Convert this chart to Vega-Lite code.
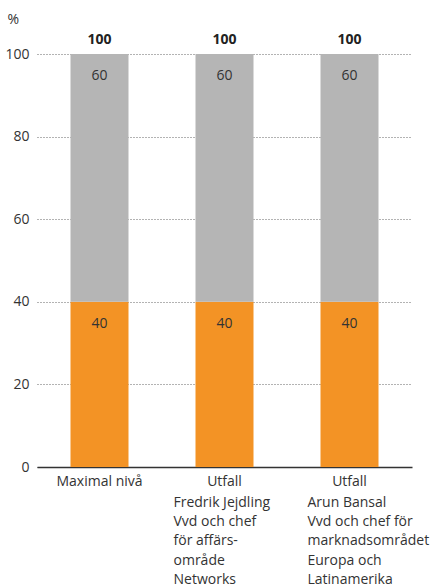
{
  "$schema": "https://vega.github.io/schema/vega-lite/v6.json",
  "width": 375,
  "height": 413,
  "autosize": "none",
  "padding": {"left": 37, "top": 54, "right": 24, "bottom": 121},
  "config": {
    "view": {"stroke": null},
    "font": "Open Sans",
    "text": {"font": "Open Sans", "fontSize": 14, "color": "#333333"}
  },
  "datasets": {
    "bars": [
      {"cat": "Maximal nivå", "part": "a", "value": 40},
      {"cat": "Maximal nivå", "part": "b", "value": 60},
      {"cat": "Utfall|Fredrik", "part": "a", "value": 40},
      {"cat": "Utfall|Fredrik", "part": "b", "value": 60},
      {"cat": "Utfall|Arun", "part": "a", "value": 40},
      {"cat": "Utfall|Arun", "part": "b", "value": 60}
    ],
    "totals": [
      {"cat": "Maximal nivå", "total": 100},
      {"cat": "Utfall|Fredrik", "total": 100},
      {"cat": "Utfall|Arun", "total": 100}
    ],
    "subs": [
      {"cat": "Utfall|Fredrik", "sub": "Fredrik Jejdling\nVvd och chef\nför affärs-\nområde\nNetworks"},
      {"cat": "Utfall|Arun", "sub": "Arun Bansal\nVvd och chef för\nmarknadsområdet\nEuropa och\nLatinamerika"}
    ]
  },
  "layer": [
    {
      "data": {"name": "bars"},
      "mark": {"type": "bar"},
      "encoding": {
        "x": {
          "field": "cat", "type": "nominal", "sort": null,
          "scale": {"paddingInner": 0.536, "paddingOuter": 0.268},
          "axis": {
            "title": null, "labelAngle": 0, "ticks": false,
            "domainColor": "#333333", "domainWidth": 1.5,
            "labelFont": "Open Sans", "labelFontSize": 14, "labelColor": "#333333",
            "labelPadding": 7,
            "labelExpr": "split(datum.label, '|')[0]"
          }
        },
        "y": {
          "field": "value", "type": "quantitative", "stack": "zero",
          "scale": {"domain": [0, 100], "nice": false},
          "axis": {
            "values": [0, 20, 40, 60, 80, 100],
            "domain": false, "ticks": false,
            "gridColor": "#666666", "gridDash": [1, 2], "gridWidth": 1,
            "labelFont": "Open Sans", "labelFontSize": 14, "labelColor": "#333333",
            "labelPadding": 8,
            "title": "%", "titleAngle": 0, "titleFont": "Open Sans", "titleFontSize": 14,
            "titleFontWeight": "normal", "titleColor": "#333333",
            "titleAlign": "left", "titleBaseline": "middle", "titleX": -30, "titleY": -35
          }
        },
        "color": {
          "field": "part", "type": "nominal",
          "scale": {"domain": ["a", "b"], "range": ["#F39325", "#B5B5B5"]},
          "legend": null
        },
        "order": {"field": "part", "type": "nominal", "sort": "ascending"}
      }
    },
    {
      "data": {"name": "bars"},
      "transform": [
        {"stack": "value", "groupby": ["cat"], "sort": [{"field": "part", "order": "ascending"}], "as": ["v0", "v1"]}
      ],
      "mark": {"type": "text", "baseline": "middle", "dy": 22, "fontSize": 14, "color": "#333333"},
      "encoding": {
        "x": {"field": "cat", "type": "nominal", "sort": null},
        "y": {"field": "v1", "type": "quantitative"},
        "text": {"field": "value", "type": "quantitative"}
      }
    },
    {
      "data": {"name": "totals"},
      "mark": {"type": "text", "baseline": "middle", "dy": -14, "fontSize": 14, "fontWeight": "bold", "color": "#222222"},
      "encoding": {
        "x": {"field": "cat", "type": "nominal", "sort": null},
        "y": {"field": "total", "type": "quantitative"},
        "text": {"field": "total", "type": "quantitative"}
      }
    },
    {
      "data": {"name": "subs"},
      "transform": [{"filter": "datum.cat == 'Utfall|Fredrik'"}],
      "mark": {"type": "text", "align": "left", "baseline": "top", "dx": -51, "dy": 29, "lineBreak": "\n", "lineHeight": 19.2, "fontSize": 14, "color": "#333333"},
      "encoding": {
        "x": {"field": "cat", "type": "nominal", "sort": null},
        "y": {"datum": 0, "type": "quantitative"},
        "text": {"field": "sub", "type": "nominal"}
      }
    },
    {
      "data": {"name": "subs"},
      "transform": [{"filter": "datum.cat == 'Utfall|Arun'"}],
      "mark": {"type": "text", "align": "left", "baseline": "top", "dx": -42, "dy": 29, "lineBreak": "\n", "lineHeight": 19.2, "fontSize": 14, "color": "#333333"},
      "encoding": {
        "x": {"field": "cat", "type": "nominal", "sort": null},
        "y": {"datum": 0, "type": "quantitative"},
        "text": {"field": "sub", "type": "nominal"}
      }
    }
  ]
}
